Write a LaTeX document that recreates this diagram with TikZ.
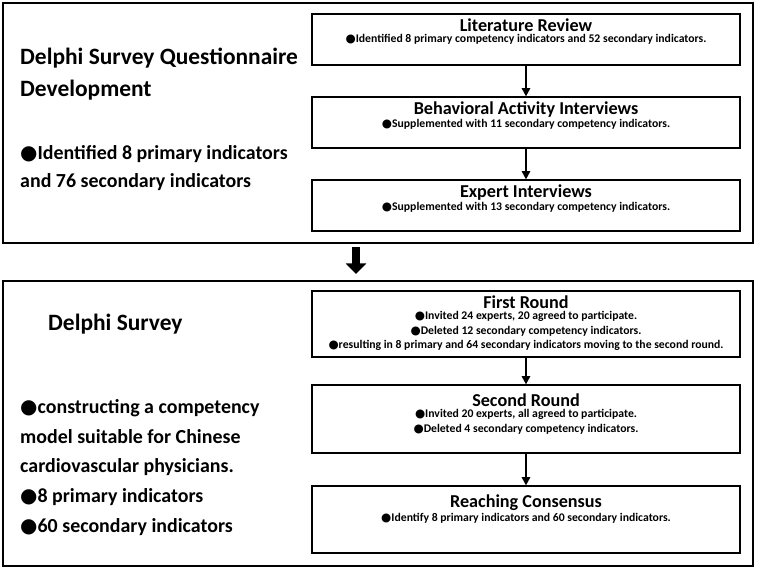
\documentclass[tikz,border=0pt]{standalone}
\usepackage{fontspec}
\setmainfont{Carlito}
\newfontfamily\symfont{DejaVu Sans}
\usetikzlibrary{arrows.meta, positioning}
\newcommand{\bul}{{\symfont\char"25CF}}
\tikzset{
  stagebox/.style={draw, line width=1pt, minimum width=12.84cm, minimum height=#1, inner sep=0pt},
  stagehead/.style={font=\bfseries\fontsize{15.5}{17}\selectfont, inner sep=0pt},
  stagetext/.style={font=\bfseries\fontsize{10}{12.6}\selectfont, align=center, inner sep=0pt},
  sidetext/.style={font=\bfseries\fontsize{17}{24}\selectfont, align=left, anchor=north west, inner sep=0pt},
  flow/.style={-{Triangle[length=7pt,width=7pt]}, line width=1.6pt}
}
\begin{document}
\begin{tikzpicture}[x=0.03cm, y=-0.03cm]
\useasboundingbox (0,0) rectangle (758,569);
% outer panels
\draw[line width=1pt] (3,3) rectangle (753,243);
\draw[line width=1pt] (3,281) rectangle (753,566);
% top panel
\node[sidetext, font=\bfseries\fontsize{20}{27}\selectfont] (devtitle) at (20,48) {Delphi Survey Questionnaire\\Development};
\node[sidetext] (devnote) at (20,145) {\bul Identified 8 primary indicators\\and 76 secondary indicators};
\node[stagebox=1.53cm] (lit) at (526,39.5) {};
\node[stagehead, below=4pt of lit.north] (lith) {Literature Review};
\node[stagetext, below=2pt of lith] {\bul Identified 8 primary competency indicators and 52 secondary indicators.};
\node[stagebox=1.53cm] (beh) at (526,122.5) {};
\node[stagehead, below=4pt of beh.north] (behh) {Behavioral Activity Interviews};
\node[stagetext, below=2pt of behh] {\bul Supplemented with 11 secondary competency indicators.};
\node[stagebox=1.53cm] (exp) at (526,205.5) {};
\node[stagehead, below=4pt of exp.north] (exph) {Expert Interviews};
\node[stagetext, below=2pt of exph] {\bul Supplemented with 13 secondary competency indicators.};
\draw[flow] (lit) -- (beh);
\draw[flow] (beh) -- (exp);
% link between panels
\coordinate (linka) at (356,247);
\coordinate (linkb) at (356,274);
\draw[-{Triangle[length=9pt,width=17pt]}, line width=7pt] (linka) -- (linkb);
% bottom panel
\node[sidetext, font=\bfseries\fontsize{20}{27}\selectfont] (surtitle) at (48,314) {Delphi Survey};
\node[sidetext, font=\bfseries\fontsize{17}{25.5}\selectfont] (surnote) at (20,399) {\bul constructing a competency\\model suitable for Chinese\\cardiovascular physicians.\\\bul 8 primary indicators\\\bul 60 secondary indicators};
\node[stagebox=1.98cm] (first) at (526,324) {};
\node[stagehead, below=4pt of first.north] (firsth) {First Round};
\node[stagetext, below=2pt of firsth] {\bul Invited 24 experts, 20 agreed to participate.\\\bul Deleted 12 secondary competency indicators.\\\bul resulting in 8 primary and 64 secondary indicators moving to the second round.};
\node[stagebox=2.04cm] (second) at (526,419) {};
\node[stagehead, below=8pt of second.north] (secondh) {Second Round};
\node[stagetext, below=2pt of secondh] {\bul Invited 20 experts, all agreed to participate.\\\bul Deleted 4 secondary competency indicators.};
\node[stagebox=2.01cm] (cons) at (526,519.5) {};
\node[stagehead, below=8pt of cons.north] (consh) {Reaching Consensus};
\node[stagetext, below=2pt of consh] {\bul Identify 8 primary indicators and 60 secondary indicators.};
\draw[flow] (first) -- (second);
\draw[flow] (second) -- (cons);
\end{tikzpicture}
\end{document}
